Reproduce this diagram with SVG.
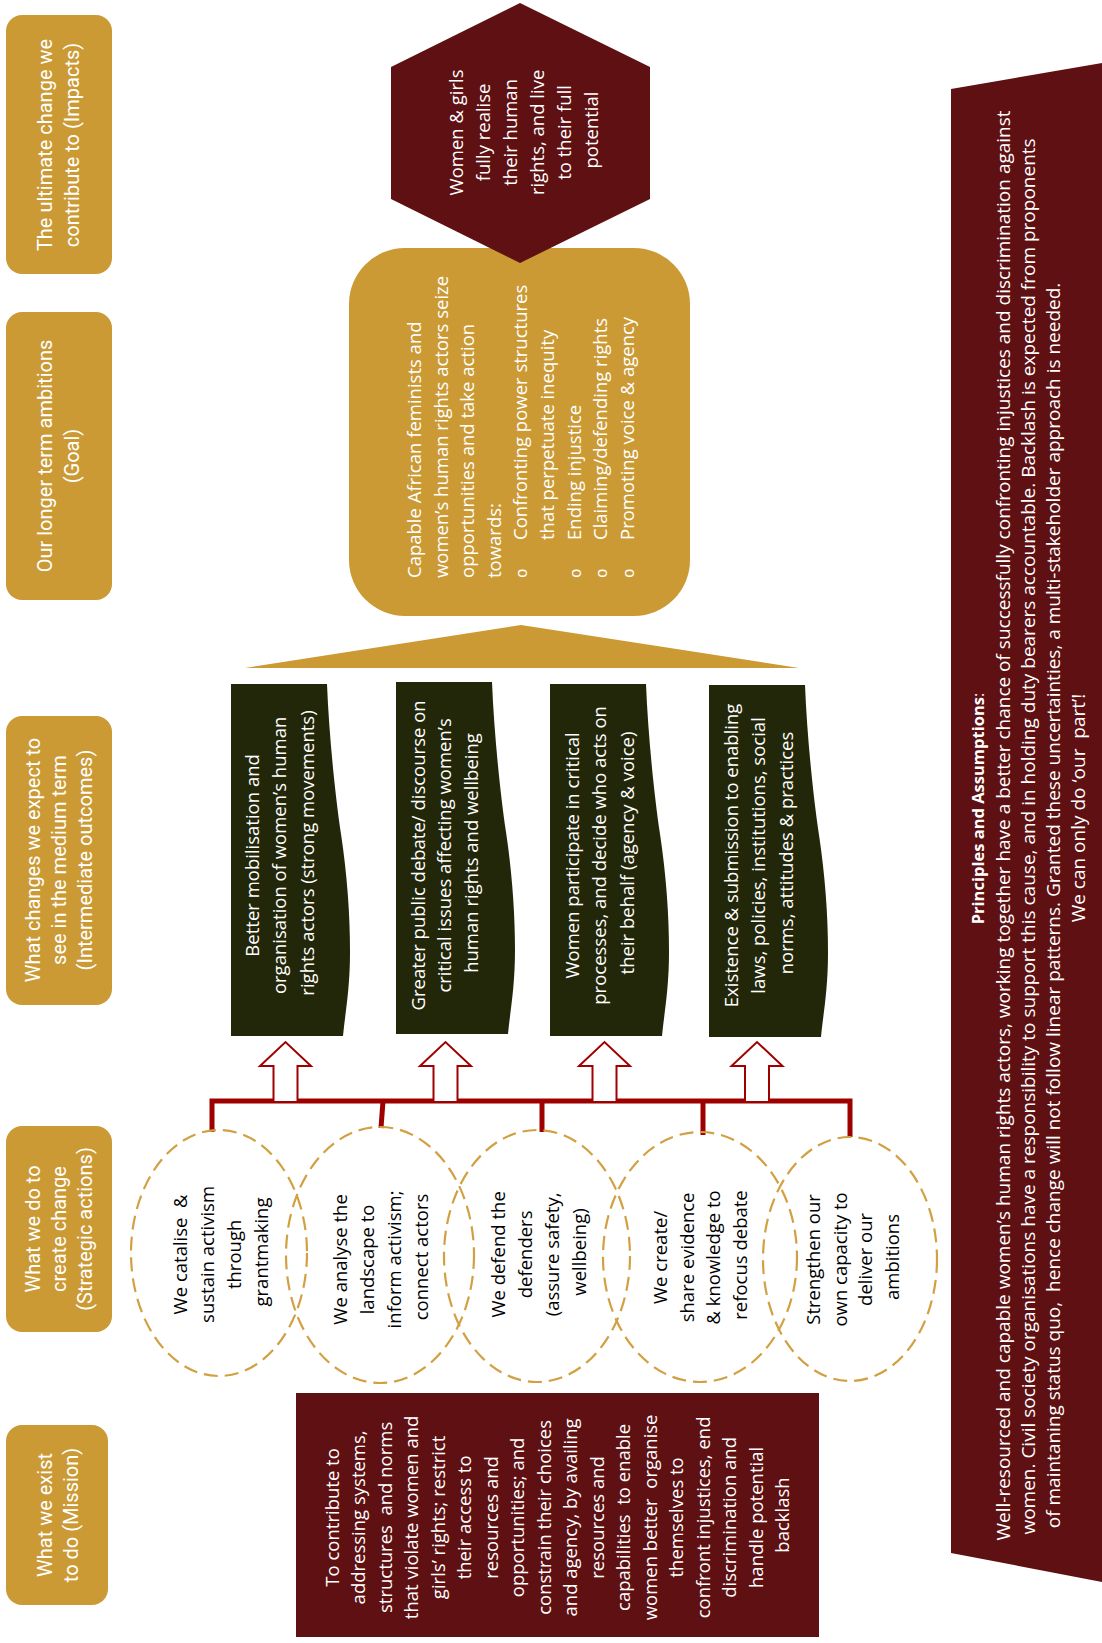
<svg xmlns="http://www.w3.org/2000/svg" width="1102" height="1643" viewBox="0 0 1102 1643">
<defs>
<style>
.lbl{fill:#CB9A35}
.lt{font-family:Roboto,"Open Sans",sans-serif;font-size:20px;fill:#fff;text-anchor:middle}
.wt{font-family:"Open Sans","Liberation Sans",sans-serif;font-size:18.5px;fill:#fff}
.bt{font-family:"Open Sans","Liberation Sans",sans-serif;font-size:18.5px;fill:#000;text-anchor:middle}
.mid{text-anchor:middle}
.doc{fill:#23270A}
.ell{fill:none;stroke:#D2A042;stroke-width:2.2;stroke-dasharray:14 7}
.conn{fill:none;stroke:#9E0000;stroke-width:5}
.arr{fill:#fff;stroke:#A00000;stroke-width:2}
.rt{font-family:"Open Sans","Liberation Sans",sans-serif;font-size:19px;fill:#fff;text-anchor:middle}
</style>
<path id="docshape" d="M0,0 H96 C98,50 104,110 110,150 S119,230 119,268 S114,330 112,352 H0 Z"/>
<path id="uparrow" d="M-12,59 V24 H-25.5 L0,0 L25.5,24 H12 V59"/>
</defs>

<g id="label-impacts">
<rect class="lbl" x="6" y="15" width="106" height="259" rx="16"/>
<text class="lt" transform="translate(0,145) rotate(-90)"><tspan x="0" y="52">The ultimate change we</tspan><tspan x="0" y="79">contribute to (Impacts)</tspan></text>
</g>
<g id="label-goal">
<rect class="lbl" x="6" y="312" width="106" height="288" rx="16"/>
<text class="lt" transform="translate(0,456) rotate(-90)"><tspan x="0" y="52">Our longer term ambitions</tspan><tspan x="0" y="79">(Goal)</tspan></text>
</g>
<g id="label-intermediate">
<rect class="lbl" x="6" y="716" width="106" height="289" rx="16"/>
<text class="lt" transform="translate(0,860) rotate(-90)"><tspan x="0" y="40">What changes we expect to</tspan><tspan x="0" y="66">see in the medium term</tspan><tspan x="0" y="92">(Intermediate outcomes)</tspan></text>
</g>
<g id="label-strategic">
<rect class="lbl" x="6" y="1126" width="106" height="206" rx="16"/>
<text class="lt" transform="translate(0,1229) rotate(-90)"><tspan x="0" y="40">What we do to</tspan><tspan x="0" y="66">create change</tspan><tspan x="0" y="92">(Strategic actions)</tspan></text>
</g>
<g id="label-mission">
<rect class="lbl" x="6" y="1425" width="102" height="180" rx="16"/>
<text class="lt" transform="translate(0,1515) rotate(-90)"><tspan x="0" y="52">What we exist</tspan><tspan x="0" y="78">to do (Mission)</tspan></text>
</g>

<g id="goal">
<rect x="349" y="248" width="341" height="368" rx="56" fill="#CB9A35"/>
<text class="wt" transform="translate(0,578) rotate(-90)">
<tspan x="0" y="421">Capable African feminists and</tspan>
<tspan x="0" y="447.6">women’s human rights actors seize</tspan>
<tspan x="0" y="474.2">opportunities and take action</tspan>
<tspan x="0" y="500.8">towards:</tspan>
<tspan x="38" y="527.4">Confronting power structures</tspan>
<tspan x="38" y="554">that perpetuate inequity</tspan>
<tspan x="38" y="580.6">Ending injustice</tspan>
<tspan x="38" y="607.2">Claiming/defending rights</tspan>
<tspan x="38" y="633.8">Promoting voice &amp; agency</tspan>
</text>
<text font-family="'Liberation Mono',monospace" font-size="16" fill="#fff" transform="translate(0,578) rotate(-90)"><tspan x="0" y="527.4">o</tspan><tspan x="0" y="580.6">o</tspan><tspan x="0" y="607.2">o</tspan><tspan x="0" y="633.8">o</tspan></text>
</g>

<g id="impact">
<polygon points="520,3 650,67 650,199 520,263 391,199 391,67" fill="#5E1012"/>
<text class="wt mid" text-anchor="middle" transform="translate(0,130) rotate(-90)">
<tspan x="0" y="463">Women &amp; girls</tspan>
<tspan x="0" y="490">fully realise</tspan>
<tspan x="0" y="517">their human</tspan>
<tspan x="0" y="544">rights, and live</tspan>
<tspan x="0" y="571">to their full</tspan>
<tspan x="0" y="598">potential</tspan>
</text>
</g>

<g id="goal-base">
<polygon points="521,625 799,668 245,668" fill="#CB9A35"/>
</g>

<g id="outcome-1">
<use href="#docshape" class="doc" transform="translate(231,684)"/>
<text class="wt" text-anchor="middle" transform="translate(0,853) rotate(-90)">
<tspan x="0" y="258.5">Better mobilisation and</tspan>
<tspan x="0" y="286">organisation of women’s human</tspan>
<tspan x="0" y="313.5">rights actors (strong movements)</tspan>
</text>
</g>
<g id="outcome-2">
<use href="#docshape" class="doc" transform="translate(396,682)"/>
<text class="wt" text-anchor="middle" transform="translate(0,853) rotate(-90)">
<tspan x="0" y="424.5">Greater public debate/ discourse on</tspan>
<tspan x="0" y="451">critical issues affecting women’s</tspan>
<tspan x="0" y="477.5">human rights and wellbeing</tspan>
</text>
</g>
<g id="outcome-3">
<use href="#docshape" class="doc" transform="translate(550,684)"/>
<text class="wt" text-anchor="middle" transform="translate(0,853) rotate(-90)">
<tspan x="0" y="578.5">Women participate in critical</tspan>
<tspan x="0" y="606">processes, and decide who acts on</tspan>
<tspan x="0" y="633.5">their behalf (agency &amp; voice)</tspan>
</text>
</g>
<g id="outcome-4">
<use href="#docshape" class="doc" transform="translate(709,685)"/>
<text class="wt" text-anchor="middle" transform="translate(0,853) rotate(-90)">
<tspan x="0" y="737.5">Existence &amp; submission to enabling</tspan>
<tspan x="0" y="765">laws, policies, institutions, social</tspan>
<tspan x="0" y="792.5">norms, attitudes &amp; practices</tspan>
</text>
</g>

<g id="connectors">
<path class="conn" d="M212,1132 V1101 H850 V1137"/>
<path class="conn" d="M383,1101 L381,1128"/>
<path class="conn" d="M542,1101 V1132"/>
<path class="conn" d="M703,1101 V1135"/>
<use href="#uparrow" class="arr" transform="translate(285.5,1042)"/>
<use href="#uparrow" class="arr" transform="translate(445.5,1042)"/>
<use href="#uparrow" class="arr" transform="translate(604.5,1042)"/>
<use href="#uparrow" class="arr" transform="translate(757,1042)"/>
</g>

<g id="action-1">
<ellipse class="ell" cx="219" cy="1253" rx="88" ry="123"/>
<text class="bt" transform="translate(0,1252) rotate(-90)">
<tspan x="0" y="186.5">We catalise&#160; &amp;</tspan>
<tspan x="0" y="213.5">sustain activism</tspan>
<tspan x="0" y="240.5">through</tspan>
<tspan x="0" y="267.5">grantmaking</tspan>
</text>
</g>
<g id="action-2">
<ellipse class="ell" cx="380" cy="1255" rx="94" ry="128"/>
<text class="bt" transform="translate(0,1257) rotate(-90)">
<tspan x="0" y="346.5">We analyse the</tspan>
<tspan x="0" y="373.5">landscape to</tspan>
<tspan x="0" y="400.5">inform activism;</tspan>
<tspan x="0" y="427.5">connect actors</tspan>
</text>
</g>
<g id="action-3">
<ellipse class="ell" cx="537" cy="1256" rx="93" ry="126"/>
<text class="bt" transform="translate(0,1252) rotate(-90)">
<tspan x="0" y="504.5">We defend the</tspan>
<tspan x="0" y="531.5">defenders</tspan>
<tspan x="0" y="558.5">(assure safety,</tspan>
<tspan x="0" y="585.5">wellbeing)</tspan>
</text>
</g>
<g id="action-4">
<ellipse class="ell" cx="700" cy="1257" rx="97" ry="125"/>
<text class="bt" transform="translate(0,1255) rotate(-90)">
<tspan x="0" y="666.5">We create/</tspan>
<tspan x="0" y="693.5">share evidence</tspan>
<tspan x="0" y="720">&amp; knowledge to</tspan>
<tspan x="0" y="746.5">refocus debate</tspan>
</text>
</g>
<g id="action-5">
<ellipse class="ell" cx="850" cy="1259" rx="87" ry="122"/>
<text class="bt" transform="translate(0,1257) rotate(-90)">
<tspan x="0" y="819.5">Strengthen our</tspan>
<tspan x="0" y="846.5">own capacity to</tspan>
<tspan x="0" y="872">deliver our</tspan>
<tspan x="0" y="898.5">ambitions</tspan>
</text>
</g>

<g id="mission">
<rect x="296" y="1393" width="523" height="244" fill="#5E1012"/>
<text class="wt" text-anchor="middle" transform="translate(0,1515) rotate(-90)">
<tspan x="0" y="338.5">To contribute to</tspan>
<tspan x="0" y="365">addressing systems,</tspan>
<tspan x="0" y="391.5">structures&#160; and norms</tspan>
<tspan x="0" y="418">that violate women and</tspan>
<tspan x="0" y="444.5">girls’ rights; restrict</tspan>
<tspan x="0" y="471">their access to</tspan>
<tspan x="0" y="497.5">resources and</tspan>
<tspan x="0" y="524">opportunities; and</tspan>
<tspan x="0" y="550.5">constrain their choices</tspan>
<tspan x="0" y="577">and agency, by availing</tspan>
<tspan x="0" y="603.5">resources and</tspan>
<tspan x="0" y="630">capabilities&#160; to enable</tspan>
<tspan x="0" y="656.5">women better&#160; organise</tspan>
<tspan x="0" y="683">themselves to</tspan>
<tspan x="0" y="709.5">confront injustices, end</tspan>
<tspan x="0" y="736">discrimination and</tspan>
<tspan x="0" y="762.5">handle potential</tspan>
<tspan x="0" y="789">backlash</tspan>
</text>
</g>

<g id="principles">
<polygon points="951,89 1102,63 1102,1582 951,1553" fill="#5E1012"/>
<text class="rt" transform="translate(0,8) rotate(-90)">
<tspan x="-798" y="984" font-size="16.5"><tspan font-weight="bold">Principles and Assumptions</tspan>:</tspan>
<tspan x="-815" y="1010">Well-resourced and capable women’s human rights actors, working together have a better chance of successfully confronting injustices and discrimination against</tspan>
<tspan x="-826" y="1035">women. Civil society organisations have a responsibility to support this cause, and in holding duty bearers accountable. Backlash is expected from proponents</tspan>
<tspan x="-895" y="1060">of maintaning status quo,&#160; hence change will not follow linear patterns. Granted these uncertainties, a multi-stakeholder approach is needed.</tspan>
<tspan x="-800" y="1085">We can only do ‘our&#160; part’!</tspan>
</text>
</g>
</svg>
